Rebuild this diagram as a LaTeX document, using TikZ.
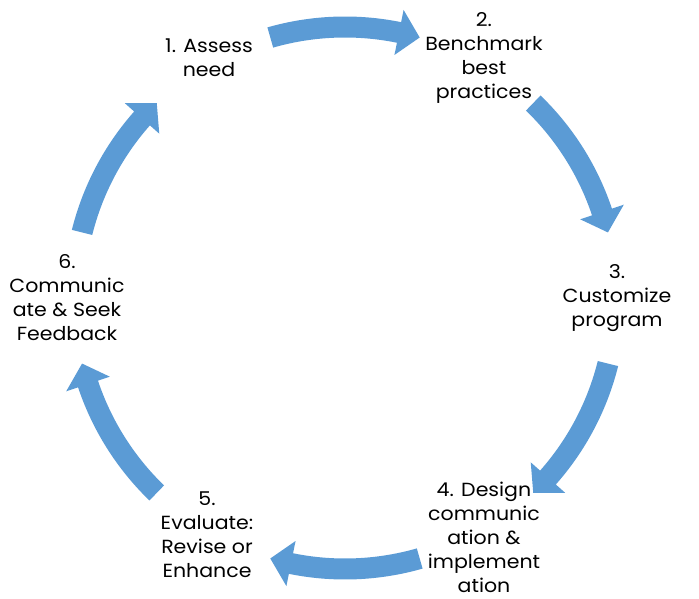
\documentclass[tikz,border=0pt]{standalone}
\usepackage{fontspec}
\setmainfont{Poppins}[FakeStretch=1.08]
\definecolor{arrowblue}{HTML}{5B9BD5}
\tikzset{
  lbl/.style={align=center, font=\fontsize{19}{24}\selectfont, inner sep=0pt, text=black},
  cyclearrow/.style={fill=arrowblue, draw=none}
}
\begin{document}
\begin{tikzpicture}[x=1pt,y=1pt]
\useasboundingbox (-345,-301) rectangle (354,298);
\def\R{271}
\foreach \c in {90,30,-30,-90,-150,150}{
  \pgfmathsetmacro{\ta}{\c+16}
  \pgfmathsetmacro{\hb}{\c-11.5}
  \pgfmathsetmacro{\tp}{\c-16}
  \fill[cyclearrow] (\ta:\R-10.5) arc[start angle=\ta, end angle=\hb, radius=\R-10.5]
     -- (\hb:\R-23) -- (\tp:\R) -- (\hb:\R+23) -- (\hb:\R+10.5)
     arc[start angle=\hb, end angle=\ta, radius=\R+10.5] -- cycle;
}
\node[lbl] (n1) at (-136,240) {1. Assess\\need};
\node[lbl] (n2) at (139,240) {2.\\Benchmark\\best\\practices};
\node[lbl] (n3) at (272,0) {3.\\Customize\\program};
\node[lbl] (n4) at (139,-239) {4. Design\\communic\\ation \&\\implement\\ation};
\node[lbl] (n5) at (-138,-237) {5.\\Evaluate:\\Revise or\\Enhance};
\node[lbl] (n6) at (-278,0) {6.\\Communic\\ate \& Seek\\Feedback};
\end{tikzpicture}
\end{document}
